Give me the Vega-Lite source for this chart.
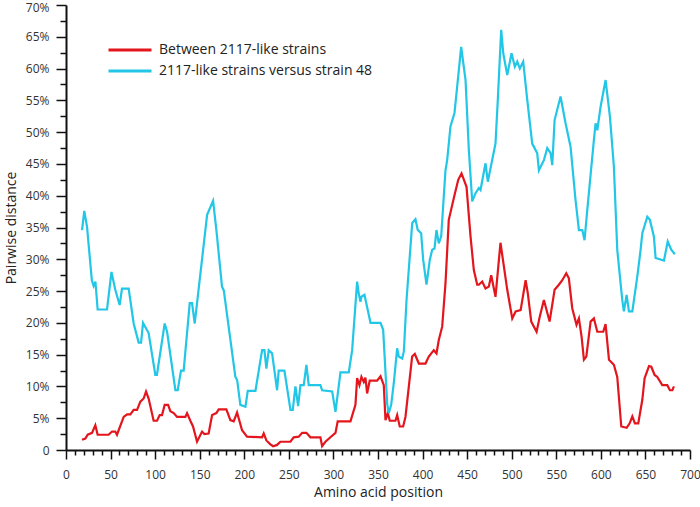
{
  "$schema": "https://vega.github.io/schema/vega-lite/v6.json",
  "autosize": "none",
  "width": 624,
  "height": 445,
  "padding": {"left": 66, "top": 5, "right": 10, "bottom": 57},
  "background": "white",
  "config": {
    "view": {"stroke": null},
    "font": "Open Sans",
    "axis": {"grid": false, "domainColor": "#111", "tickColor": "#111", "labelColor": "#333", "titleColor": "#222", "labelFont": "Open Sans", "titleFont": "Open Sans", "labelFontSize": 12, "titleFontSize": 14, "titleFontWeight": "normal"}
  },
  "datasets": {
    "red": [
      [18,1.6],[21.7,1.8],[24.3,2.4],[29.2,2.7],[32.9,3.9],[35.5,2.4],[47.8,2.4],[51.6,2.9],[55.3,2.9],[57.2,2.4],[64.7,5.2],[68.5,5.6],[72.2,5.6],[75.9,6.3],[79.7,6.3],[83.4,7.6],[87.1,8.1],[89.8,9.2],[92.7,8.1],[98.3,4.6],[102.1,4.6],[105.1,5.5],[107.7,5.5],[110.7,7.1],[114.5,7.1],[117.1,6.1],[120.8,5.8],[124.6,5.2],[133.9,5.2],[135.8,5.8],[139.5,4.6],[142.5,3.7],[147,1.3],[152.6,2.9],[155.2,2.5],[160,2.6],[163.9,5.5],[168.7,5.8],[171.3,6.4],[179.9,6.4],[184.4,4.7],[188.1,4.5],[191.9,5.9],[197.5,3.1],[203.1,2.1],[220,2.0],[221.8,2.6],[224.8,1.5],[229.3,0.9],[232.3,0.6],[236.8,0.8],[240.5,1.3],[251.7,1.3],[255.5,2.0],[261.1,2.1],[264.9,2.7],[269.7,2.7],[274.2,2.0],[285.4,2.0],[287.3,0.6],[291,1.3],[296.6,2.0],[302.3,2.7],[304.8,4.5],[319.1,4.5],[324.7,7.1],[326.6,11.3],[329.2,10.2],[331.4,11.5],[334,10.7],[335.9,11.4],[337.8,8.9],[340.7,10.9],[349,10.9],[352.8,11.6],[356.5,10.2],[358.4,4.7],[361,5.8],[363.2,4.6],[369.6,4.6],[371.5,5.5],[374.4,3.7],[378.2,3.7],[380.8,5.2],[388.3,14.7],[391.3,15.1],[395.8,13.6],[403.3,13.6],[407,14.7],[412.6,15.7],[415.6,15.2],[418.2,17.3],[422,19.4],[425.7,26.2],[429.4,36.2],[435,39.6],[440,42.5],[443.7,43.5],[449.3,41.4],[453.8,33.6],[457.5,28.3],[461.3,26.0],[463.1,26.0],[466.9,26.5],[470.6,25.4],[474.3,25.7],[477,27.5],[481.8,24.1],[487.4,32.6],[495,25.2],[500.6,20.7],[504.4,21.8],[510,22.0],[515.6,26.7],[518.1,24.6],[521.9,20.2],[527.9,18.6],[531.5,21.0],[536.1,23.6],[542.5,20.2],[548.1,25.2],[552.9,26.0],[556.7,26.7],[561.2,27.8],[564.1,27.0],[567.9,22.3],[572.7,19.7],[575.4,20.7],[578.4,17.8],[581,14.2],[583.7,14.7],[588.5,20.2],[592.2,20.7],[596,18.6],[602.7,18.6],[605.3,19.8],[609.1,14.2],[614.6,13.4],[618.4,11.5],[622.9,3.7],[628.9,3.5],[632.3,4.2],[635.3,5.3],[638.2,4.2],[642,4.2],[646.5,7.9],[649.1,11.3],[654,13.2],[656.6,13.1],[660.3,11.8],[663.3,11.5],[668.9,10.2],[674.5,10.2],[677.5,9.4],[680.2,9.4],[682,10.0]
    ],
    "cyan": [
      [18,34.6],[20.5,37.6],[23.6,35.1],[29,26.7],[31,25.8],[33,26.5],[35.5,22.1],[46,22.1],[51,28.0],[55.3,25.2],[60.2,22.8],[62.8,25.4],[70.3,25.4],[75.9,19.9],[81.5,16.9],[84.2,16.9],[86.4,20.0],[92.7,18.4],[100.2,11.8],[102,11.8],[110.7,19.9],[113.4,18.6],[122.7,9.4],[125.3,9.4],[129,12.5],[132,12.5],[138.8,23.1],[141.4,23.1],[144.4,19.9],[147,23.1],[158.3,37.0],[165,39.2],[168.7,34.6],[175,25.7],[177,25.1],[190,11.5],[192,11.0],[195.6,7.1],[201.3,6.8],[203.9,9.3],[212.5,9.3],[220,15.7],[222.6,15.7],[224.8,12.8],[227.4,15.7],[231.2,15.2],[236.8,9.4],[238.6,12.5],[245,12.5],[251.8,6.3],[254.4,6.3],[257.4,10.0],[260.4,6.9],[263,10.2],[266.7,10.2],[269.7,13.4],[272.3,10.2],[285.4,10.2],[287.3,9.4],[298.6,9.2],[302.3,6.0],[307.9,12.2],[317.2,12.2],[321,15.7],[326.6,26.5],[328.4,24.6],[330.3,23.3],[331.4,24.1],[334.8,24.4],[341.6,20.0],[352.8,20.0],[355.8,18.9],[360.3,7.3],[362,5.8],[364.8,7.1],[367.7,10.5],[371.5,16.0],[373.3,14.7],[377.1,14.4],[379,15.5],[382,23.6],[388.4,35.7],[392,36.3],[394.6,34.6],[398.4,34.1],[400.7,29.9],[404.4,26.0],[408.1,29.9],[410.8,31.5],[413.4,31.7],[415.6,34.6],[418.2,32.5],[420.9,33.6],[425.7,44.0],[427.6,45.6],[431.3,50.9],[435.8,53.0],[443.3,63.4],[448.2,58.2],[451.9,47.2],[455.7,39.1],[459.4,40.4],[463.1,41.2],[465,40.9],[470.6,45.1],[473.2,42.2],[481.8,48.2],[484.4,55.1],[488.2,66.1],[490.5,62.4],[495,59.0],[499.8,62.4],[503.5,60.3],[506.2,61.1],[509.1,60.0],[512.9,61.1],[517.4,55.1],[523,48.2],[528.6,46.7],[530.5,44.0],[536.1,45.6],[539.9,47.5],[543.6,46.7],[545.5,44.8],[548.1,51.9],[554.8,55.6],[560.4,51.4],[566,47.7],[571.6,39.3],[575.4,34.6],[579.2,34.6],[581.7,33.0],[584.8,37.8],[592.2,48.8],[594.1,51.4],[596,50.3],[599.7,54.0],[605.3,58.2],[610.2,52.4],[614.6,44.6],[618.4,31.5],[624,23.6],[625.8,21.8],[628.9,24.4],[631.5,21.8],[635.3,21.8],[640.9,27.3],[644.6,31.5],[646.5,34.1],[652.1,36.7],[655,36.2],[659.5,33.6],[661.4,30.2],[670.8,29.8],[675,32.8],[679,31.5],[683,30.8]
    ]
  },
  "encoding": {
    "x": {"field": "pos", "type": "quantitative", "scale": {"domain": [0, 700], "nice": false, "zero": false},
      "axis": {"title": "Amino acid position", "values": [0,10,20,30,40,50,60,70,80,90,100,110,120,130,140,150,160,170,180,190,200,210,220,230,240,250,260,270,280,290,300,310,320,330,340,350,360,370,380,390,400,410,420,430,440,450,460,470,480,490,500,510,520,530,540,550,560,570,580,590,600,610,620,630,640,650,660,670,680,690,700],
        "labelExpr": "datum.value % 50 === 0 ? '' + datum.value : ''",
        "tickSize": {"condition": {"test": "datum.value % 50 === 0", "value": 9}, "value": 5},
        "tickWidth": 1.5, "domainWidth": 2, "labelPadding": 10, "titlePadding": 5, "labelFlush": false, "labelOverlap": false}},
    "y": {"field": "dist", "type": "quantitative", "scale": {"domain": [0, 70], "nice": false},
      "axis": {"title": "Pairwise distance", "values": [0,2.5,5,7.5,10,12.5,15,17.5,20,22.5,25,27.5,30,32.5,35,37.5,40,42.5,45,47.5,50,52.5,55,57.5,60,62.5,65,67.5,70],
        "labelExpr": "datum.value % 5 === 0 ? (datum.value === 0 ? '0' : datum.value + '%') : ''",
        "labelOffset": {"condition": {"test": "datum.value === 70", "value": 2}, "value": 0},
        "tickSize": {"condition": {"test": "datum.value % 5 === 0", "value": 10}, "value": 6},
        "tickWidth": 1.5, "domainWidth": 2, "labelPadding": 7, "titlePadding": 7, "labelFlush": false, "labelOverlap": false}},
    "color": {"field": "series", "type": "nominal",
      "scale": {"domain": ["Between 2117-like strains", "2117-like strains versus strain 48"], "range": ["#e3161d", "#22c6e6"]},
      "legend": {"title": null, "orient": "none", "legendX": 57, "legendY": 38, "padding": 0,
        "symbolType": "M-4.3,0H4.3", "symbolSize": 100, "symbolStrokeWidth": 3, "symbolFillColor": "transparent",
        "labelFont": "Open Sans", "labelFontSize": 14, "labelColor": "#222", "labelOffset": 22, "labelLimit": 0, "rowPadding": 7}}
  },
  "layer": [
    {
      "data": {"name": "red"},
      "transform": [
        {"calculate": "datum[0]", "as": "pos"},
        {"calculate": "datum[1]", "as": "dist"},
        {"calculate": "'Between 2117-like strains'", "as": "series"}
      ],
      "mark": {"type": "line", "strokeWidth": 2.2, "interpolate": "linear"}
    },
    {
      "data": {"name": "cyan"},
      "transform": [
        {"calculate": "datum[0]", "as": "pos"},
        {"calculate": "datum[1]", "as": "dist"},
        {"calculate": "'2117-like strains versus strain 48'", "as": "series"}
      ],
      "mark": {"type": "line", "strokeWidth": 2.2, "interpolate": "linear"}
    }
  ]
}
